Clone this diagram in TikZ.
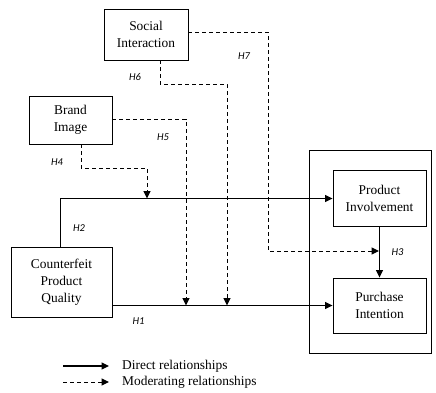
\documentclass[tikz,border=0pt]{standalone}
\usepackage{fontspec}
\setmainfont{Liberation Serif}
\newfontfamily\boxfont{Liberation Serif}
\newfontfamily\hfont{Carlito}
\usetikzlibrary{arrows.meta}
\begin{document}
\begin{tikzpicture}[x=1pt,y=-1pt,
  box/.style={draw,line width=0.9pt,align=center,inner sep=0pt,
    font=\boxfont\fontsize{13.4}{17}\selectfont},
  dir/.style={line width=1.1pt,-{Triangle[length=7.5pt,width=7pt]}},
  mod/.style={line width=1pt,dash pattern=on 4pt off 3pt,-{Triangle[length=7.5pt,width=7pt]}},
  hlab/.style={font=\hfont\itshape\fontsize{10.5}{12}\selectfont,inner sep=0pt},
  leg/.style={anchor=west,inner sep=0pt,font=\boxfont\fontsize{13.4}{16}\selectfont}]
\useasboundingbox (0,0) rectangle (436,392);
% frame
\node[draw,line width=0.9pt,minimum width=122pt,minimum height=203pt,inner sep=0pt] (frame) at (370,251.5) {};
% boxes
\node[box,minimum width=84pt,minimum height=51pt] (SI) at (146,34.5) {Social\\Interaction};
\node[box,minimum width=83pt,minimum height=48pt] (BI) at (70.5,120) {Brand\\Image};
\node[box,minimum width=101pt,minimum height=70pt] (CPQ) at (61.5,282) {Counterfeit\\Product\\Quality};
\node[box,minimum width=93pt,minimum height=56pt] (PInv) at (379.5,198.5) {Product\\Involvement};
\node[box,minimum width=93pt,minimum height=55pt] (PInt) at (379.5,305.5) {Purchase\\Intention};
% direct relationships
\draw[dir] ([xshift=-1pt]CPQ.north) |- (PInv.west);
\draw[dir] (CPQ.east |- PInt.west) -- (PInt.west);
\draw[dir] (PInv.south) -- (PInt.north);
% moderating relationships
\coordinate (m4) at (147,198.5);
\coordinate (m5) at (186,305.5);
\coordinate (m6) at (227,305.5);
\coordinate (k7) at (268,251);
\coordinate (m3) at (379,251);
\draw[mod] ([xshift=10.5pt]BI.south) -- ++(0,24) -| (m4);
\draw[mod] ([yshift=1pt]BI.east) -| (m5);
\draw[mod] ([xshift=14pt]SI.south) -- ++(0,24) -| (m6);
\draw[mod] ([yshift=2.5pt]SI.east) -| (k7) -- (m3);
% labels
\node[hlab] (H1) at (138.5,321) {H1};
\node[hlab] (H2) at (79,228) {H2};
\node[hlab] (H3) at (397.5,252) {H3};
\node[hlab] (H4) at (57,162) {H4};
\node[hlab] (H5) at (163,137) {H5};
\node[hlab] (H6) at (135,77) {H6};
\node[hlab] (H7) at (244,56) {H7};
% legend
\coordinate (l1a) at (63,366);
\coordinate (l1b) at (109,366);
\coordinate (l2a) at (63,382);
\coordinate (l2b) at (109,382);
\draw[dir] (l1a) -- (l1b);
\draw[mod] (l2a) -- (l2b);
\node[leg] (t1) at (122,366) {Direct relationships};
\node[leg] (t2) at (122,382) {Moderating relationships};
\end{tikzpicture}
\end{document}
